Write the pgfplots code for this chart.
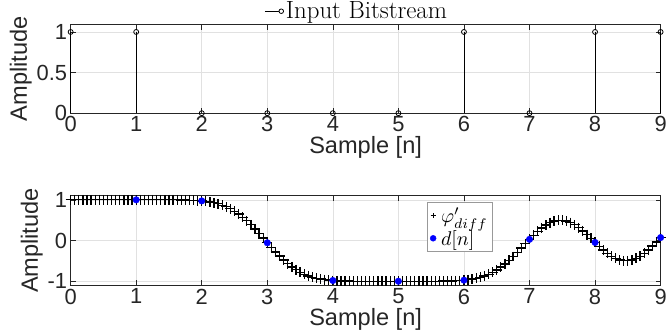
\documentclass[border=0pt]{standalone}
\usepackage{graphicx}
\usepackage{pgfplots}
\pgfplotsset{compat=1.18}
\usepackage{fontspec}
\setsansfont{Liberation Sans}
\definecolor{axc}{RGB}{38,38,38}
\definecolor{gridc}{RGB}{225,225,225}
\definecolor{mblue}{RGB}{0,0,255}
\begin{document}
\begin{tikzpicture}
\pgfplotsset{
 myax/.style={
  scale only axis, width=593pt,
  xmin=0, xmax=9, clip=false,
  xtick={0,1,2,3,4,5,6,7,8,9}, xticklabels={0,1,2,3,4,5,6,7,8,9},
  grid=major, major grid style={gridc, line width=0.5pt},
  axis line style={axc, line width=0.6pt},
  tick style={axc, line width=0.6pt},
  tick align=inside, major tick length=5pt,
  ticklabel style={font=\fontsize{22}{24}\selectfont\sffamily, text=axc},
  label style={font=\fontsize{23.7}{26}\selectfont\sffamily, text=axc},
  xlabel={Sample [n]}, ylabel={Amplitude},
  ylabel style={yshift=-2pt},
  xlabel style={yshift=3pt},
 }
}
\path (-71pt,0pt);
\begin{axis}[myax, height=89pt, at={(0,0)}, anchor=south west,
  ymin=0, ymax=1.09, ytick={0,0.5,1}, yticklabels={0,0.5,1},
  legend style={at={(0.485,1)}, anchor=south, draw=none, fill=none,
    font=\fontsize{25}{27}\selectfont, inner sep=0pt, yshift=2pt},
  legend cell align=left]
\addplot[ycomb, black, line width=0.9pt, mark=o, mark size=2.5pt,
  mark options={fill=white, line width=0.8pt},
  legend image code/.code={\draw[black, line width=0.8pt] (-4pt,0pt) -- (10pt,0pt);
    \draw[black, fill=white, line width=0.8pt] (12.5pt,0pt) circle (2.3pt);}]
  coordinates {(0,1)(1,1)(2,0)(3,0)(4,0)(5,0)(6,1)(7,0)(8,1)(9,1)};
\addlegendentry{Input Bitstream}
\end{axis}
\begin{axis}[myax, height=90pt, at={(0,-173pt)}, anchor=south west,
  ymin=-1.1, ymax=1.1, ytick={-1,0,1}, yticklabels={-1,0,1},
  legend style={at={(0.604,0.925)}, anchor=north west, draw=gray!80, fill=white,
    inner sep=3pt, row sep=2pt, column sep=3pt},
  legend cell align=left]
\addplot[only marks, black, mark=+, mark size=5pt, mark options={line width=1.3pt},
  legend image post style={mark size=2.5pt, mark options={line width=1pt}}]
  table {
x y
0 1
0.0625 1
0.125 1
0.1875 1
0.25 1
0.3125 1
0.375 1
0.4375 1
0.5 1
0.5625 1
0.625 1
0.6875 1
0.75 1
0.8125 1
0.875 1
0.9375 1
1 1
1.0625 1
1.125 1
1.1875 1
1.25 1
1.3125 1
1.375 1
1.4375 1
1.5 1
1.5625 1
1.625 1
1.6875 0.997
1.75 0.995
1.8125 0.992
1.875 0.988
1.9375 0.982
2.0 0.974
2.0625 0.963
2.125 0.948
2.1875 0.928
2.25 0.902
2.3125 0.869
2.375 0.829
2.4375 0.779
2.5 0.720
2.5625 0.651
2.625 0.572
2.6875 0.484
2.75 0.387
2.8125 0.283
2.875 0.173
2.9375 0.060
3.0 -0.055
3.0625 -0.168
3.125 -0.278
3.1875 -0.383
3.25 -0.480
3.3125 -0.569
3.375 -0.648
3.4375 -0.717
3.5 -0.777
3.5625 -0.827
3.625 -0.868
3.6875 -0.901
3.75 -0.927
3.8125 -0.947
3.875 -0.962
3.9375 -0.974
4.0 -0.982
4.0625 -0.988
4.125 -0.992
4.1875 -0.995
4.25 -0.997
4.3125 -0.998
4.375 -1
4.4375 -1
4.5 -1
4.5625 -1
4.625 -1
4.6875 -1
4.75 -1
4.8125 -1
4.875 -1
4.9375 -1
5 -1
5.0625 -1
5.125 -1
5.1875 -1
5.25 -1
5.3125 -1
5.375 -1
5.4375 -1
5.5 -1
5.5625 -1
5.625 -1
5.6875 -0.997
5.75 -0.995
5.8125 -0.992
5.875 -0.988
5.9375 -0.982
6.0 -0.974
6.0625 -0.963
6.125 -0.948
6.1875 -0.928
6.25 -0.902
6.3125 -0.869
6.375 -0.829
6.4375 -0.779
6.5 -0.721
6.5625 -0.652
6.625 -0.574
6.6875 -0.487
6.75 -0.392
6.8125 -0.290
6.875 -0.185
6.9375 -0.077
7.0 0.029
7.0625 0.131
7.125 0.226
7.1875 0.311
7.25 0.382
7.3125 0.438
7.375 0.477
7.4375 0.496
7.5 0.497
7.5625 0.478
7.625 0.442
7.6875 0.388
7.75 0.319
7.8125 0.238
7.875 0.147
7.9375 0.051
8.0 -0.047
8.0625 -0.143
8.125 -0.234
8.1875 -0.316
8.25 -0.385
8.3125 -0.440
8.375 -0.478
8.4375 -0.497
8.5 -0.497
8.5625 -0.478
8.625 -0.440
8.6875 -0.385
8.75 -0.314
8.8125 -0.230
8.875 -0.135
8.9375 -0.033
9.0 0.073
};
\addlegendentry{\scalebox{2}{$\varphi'_{diff}$}}
\addplot[only marks, mblue, mark=*, mark size=3.3pt, mark options={draw=mblue, fill=mblue},
  legend image post style={mark size=3pt}]
  coordinates {(1,1)(2,0.974)(3,-0.055)(4,-0.982)(5,-1)(6,-0.974)(7,0.029)(8,-0.047)(9,0.073)};
\addlegendentry{\scalebox{2}{$d[n]$}}
\end{axis}
\end{tikzpicture}
\end{document}
